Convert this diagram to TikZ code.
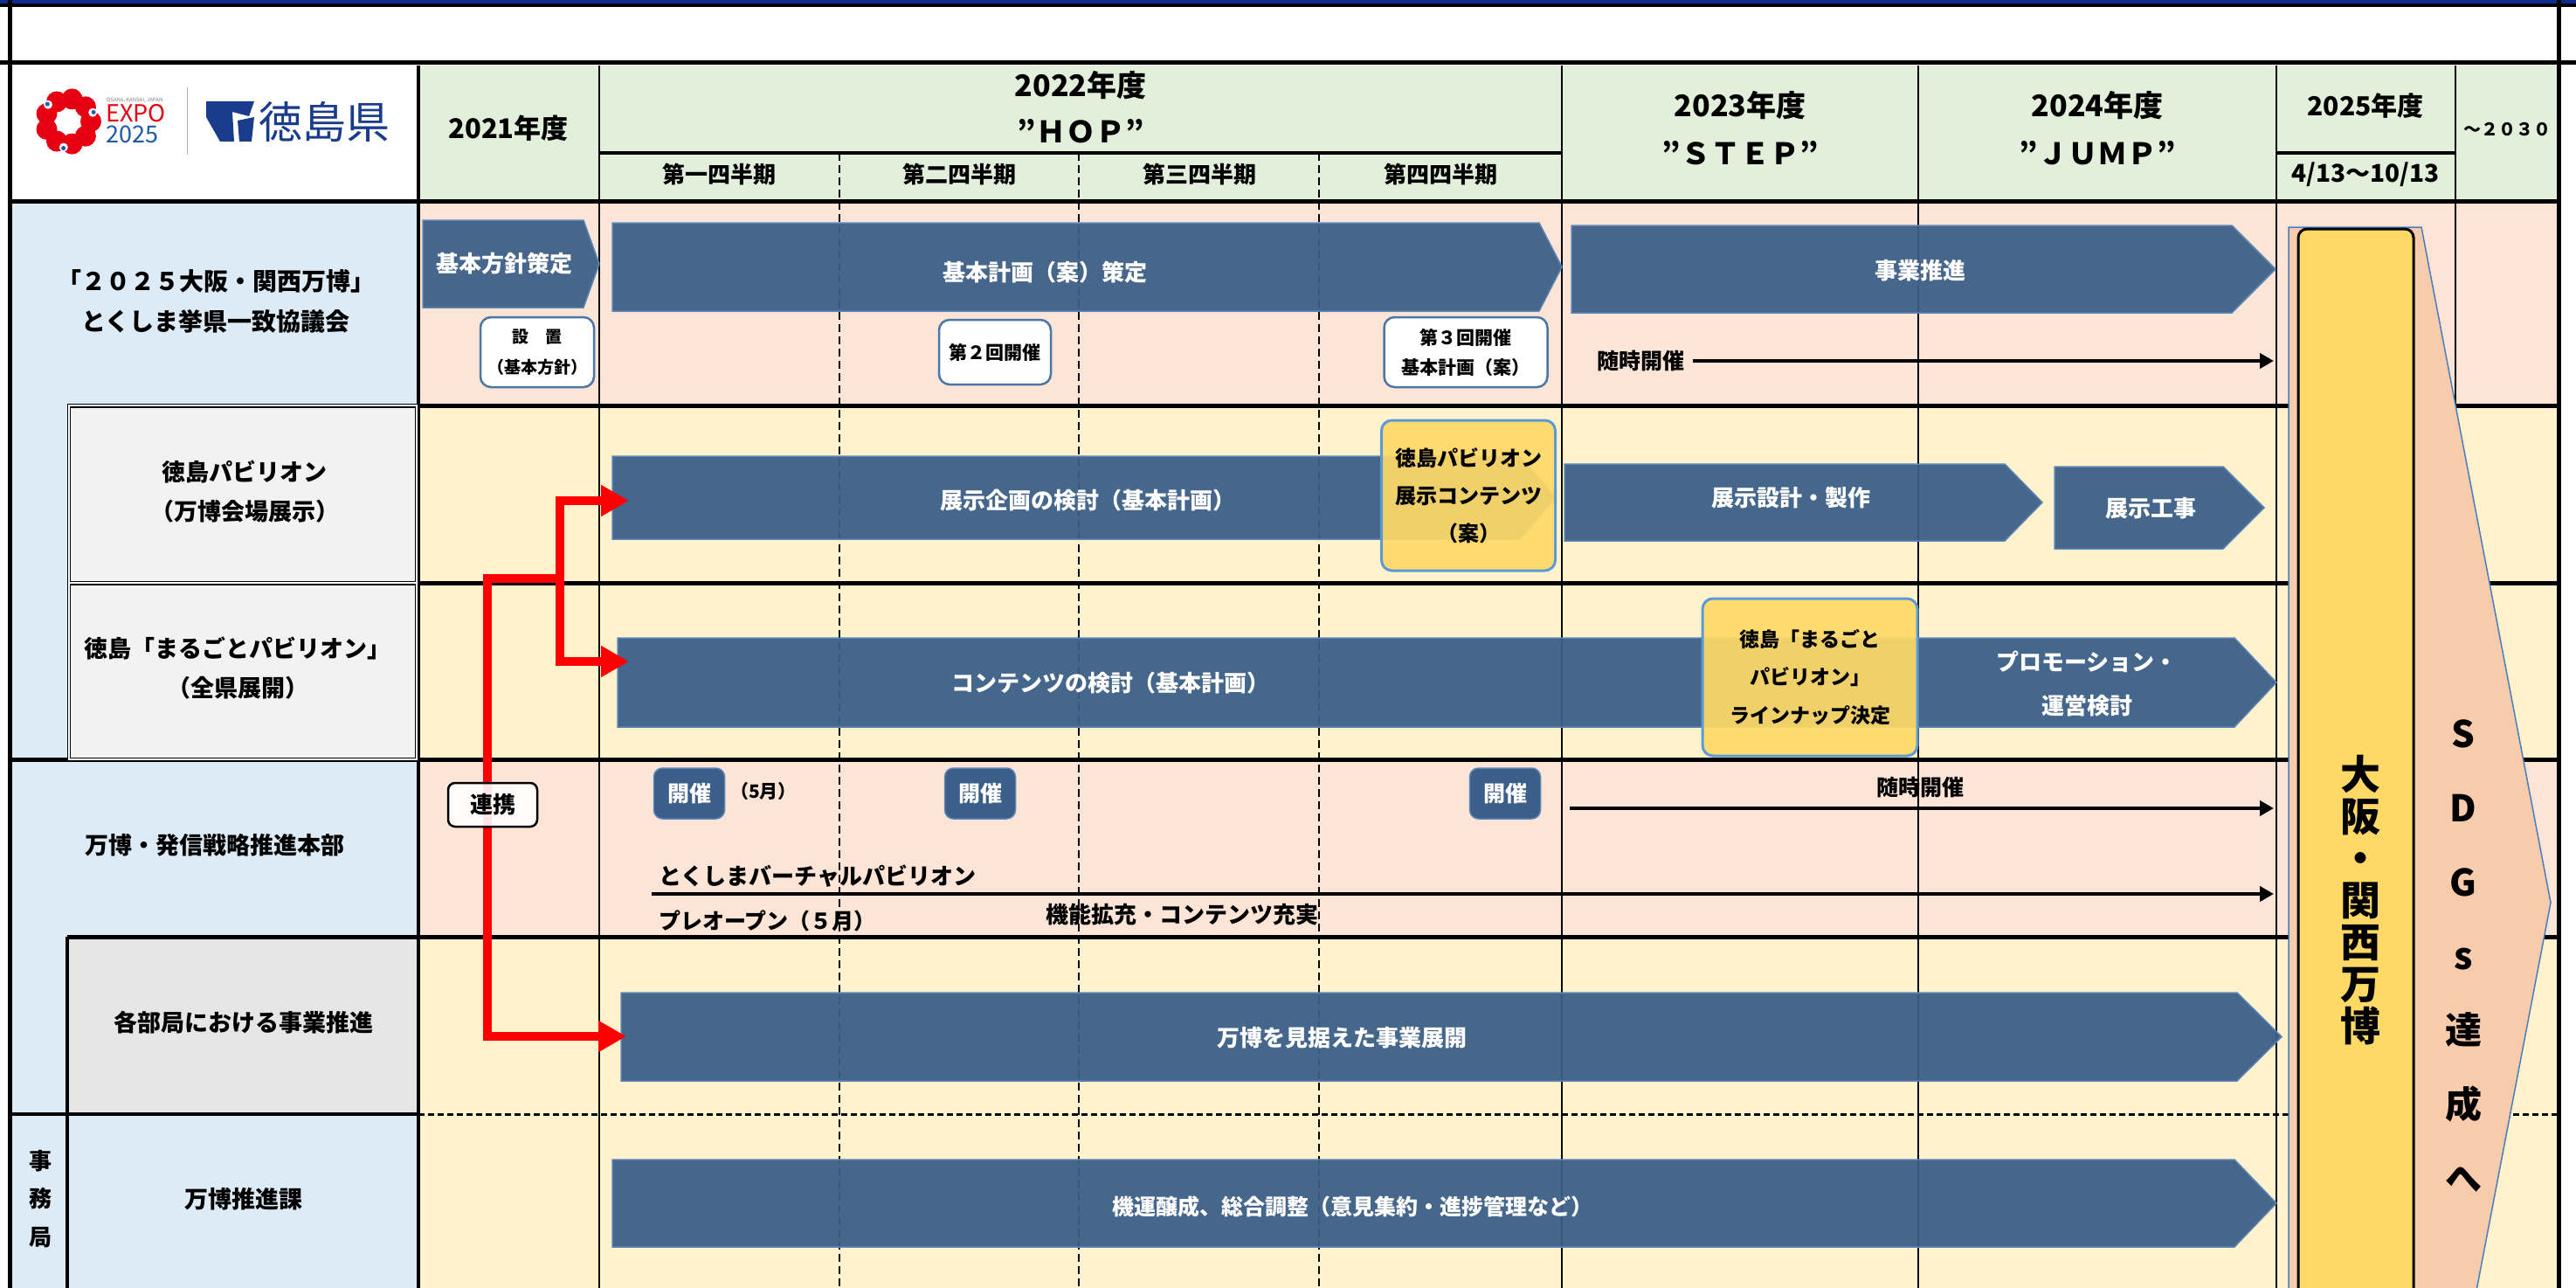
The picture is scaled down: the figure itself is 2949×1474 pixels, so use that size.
\documentclass[tikz,border=0pt]{standalone}
\usepackage{fontspec}
\setmainfont{Noto Sans CJK JP}
\usetikzlibrary{arrows.meta}
\definecolor{topblue}{HTML}{0D2C8C}
\definecolor{headgreen}{HTML}{E2EFDA}
\definecolor{labelblue}{HTML}{DDEBF7}
\definecolor{peach}{HTML}{FCE4D6}
\definecolor{cream}{HTML}{FFF2CC}
\definecolor{cellgray}{HTML}{F2F2F2}
\definecolor{cellgrey}{HTML}{E7E6E6}
\definecolor{barblue}{HTML}{3B5F88}
\definecolor{barline}{HTML}{5B85B5}
\definecolor{memoline}{HTML}{4A76A8}
\definecolor{expoyellow}{HTML}{FFD966}
\definecolor{boxline}{HTML}{5B9BD5}
\definecolor{sdgpeach}{HTML}{F8CBAD}
\definecolor{sdgline}{HTML}{4A7EBB}
\definecolor{expored}{HTML}{E60012}
\definecolor{expoblue}{HTML}{1E5AA8}
\definecolor{tokublue}{HTML}{1A3C8C}
\newcommand{\fsz}[2]{\fontsize{#1}{#2}\selectfont}
\newcommand{\bluebar}[5]{\draw[planbar] (#1,#4) -- (#2,#4) -- (#3,{(#4+#5)/2}) -- (#2,#5) -- (#1,#5) -- cycle;}
\begin{document}
\begin{tikzpicture}[x=1pt, y=-1pt, line join=miter, >={Triangle[length=16pt,width=17pt]}]
			\tikzset{every node/.style={inner sep=0pt, font=\bfseries},
				planbar/.style={fill=barblue, draw=barline, line width=1.5pt, fill opacity=0.94},
				bartext/.style={text=white, font=\bfseries\fsz{26}{50}, align=center},
				memo/.style={draw=memoline, fill=white, line width=2.5pt, rounded corners=12pt, align=center},
				kaisai/.style={draw=barline, fill=barblue, line width=1.5pt, rounded corners=10pt, text=white, minimum width=81pt, minimum height=58pt, font=\bfseries\fsz{25}{30}},
				ybox/.style={draw=boxline, fill=expoyellow, fill opacity=0.92, text opacity=1, line width=3pt, rounded corners=12pt, align=center},
				rowlabel/.style={align=center, font=\bfseries\fsz{27}{45}},
				colline/.style={line width=2.5pt},
				rowline/.style={line width=5pt},
				link/.style={red, line width=10pt, line cap=rect},
				linkarrow/.style={link, -{Triangle[length=32pt,width=34pt]}},
				timeline/.style={line width=4.5pt, ->}}
			\useasboundingbox (0,0) rectangle (2949,1474);
			\clip (0,0) rectangle (2949,1474);
			\fill[white] (0,0) rectangle (2949,1474);
			\fill[headgreen] (479,75) rectangle (2929,230);
			\fill[labelblue] (13,230) rectangle (479,1474);
			\fill[peach] (479,230) rectangle (2929,464);
			\fill[cream] (479,464) rectangle (2929,869);
			\fill[peach] (479,869) rectangle (2929,1072);
			\fill[cream] (479,1072) rectangle (2929,1474);
			\fill[cellgray] (79,464) rectangle (479,869);
			\fill[cellgrey] (77,1072) rectangle (479,1275);
			\foreach \x in {686,1788,2196,2606,2811} \draw[colline] (\x,75) -- (\x,1474);
			\foreach \x in {961,1235,1510} \draw[line width=2pt, dash pattern=on 9pt off 5pt] (\x,175) -- (\x,1474);
			\draw[line width=4pt] (686,175) -- (1788,175) (2606,175) -- (2811,175);
			\draw[line width=4pt] (479,75) -- (479,1474);
			\bluebar{484}{668}{686}{252}{352}
			\bluebar{701}{1762}{1788}{255}{356}
			\bluebar{1799}{2555}{2605}{258}{358}
			\bluebar{701}{1740}{1781}{522}{617}
			\bluebar{1791}{2295}{2338}{531}{619}
			\bluebar{2352}{2545}{2592}{534}{628}
			\bluebar{707}{2558}{2606}{730}{832}
			\bluebar{711}{2561}{2612}{1136}{1237}
			\bluebar{701}{2558}{2606}{1327}{1427}
			\node[bartext] (hoshin) at (577,302) {基本方針策定};
			\node[bartext] (keikaku) at (1196,312) {基本計画（案）策定};
			\node[bartext] (suishin) at (2198,310) {事業推進};
			\node[bartext] (kikaku) at (1245,573) {展示企画の検討（基本計画）};
			\node[bartext] (sekkei) at (2050,570) {展示設計・製作};
			\node[bartext] (koji) at (2462,582) {展示工事};
			\node[bartext] (kento) at (1271,782) {コンテンツの検討（基本計画）};
			\node[bartext] (promo) at (2389,783) {プロモーション・\\運営検討};
			\node[bartext] (tenkai) at (1536,1188) {万博を見据えた事業展開};
			\node[bartext, font=\bfseries\fsz{25}{30}] (kiun) at (1548,1381) {機運醸成、総合調整（意見集約・進捗管理など）};
			\draw[rowline] (0,72) -- (2949,72);
			\draw[rowline] (13,230) -- (2929,230);
			\draw[rowline] (77,464) -- (2929,464);
			\draw[rowline] (77,667) -- (2929,667);
			\draw[rowline] (13,869) -- (2929,869);
			\draw[rowline] (77,1072) -- (2929,1072);
			\draw[line width=4pt] (13,1275) -- (479,1275);
			\draw[line width=3pt, dash pattern=on 7pt off 4pt] (479,1275) -- (2929,1275);
			\draw[line width=4pt] (77,1072) -- (77,1474);
			\draw[double=white, double distance=1.5pt, line width=1.5pt] (79,464) rectangle (477,667) (79,667) rectangle (477,869);
			\node[rowlabel, font=\bfseries\fsz{28}{46}] (kyogikai) at (247,345) {「２０２５大阪・関西万博」\\とくしま挙県一致協議会};
			\node[rowlabel] (pavilion) at (280,563) {徳島パビリオン\\（万博会場展示）};
			\node[rowlabel] (marugoto) at (272,765) {徳島「まるごとパビリオン」\\（全県展開）};
			\node[rowlabel] (honbu) at (246,967) {万博・発信戦略推進本部};
			\node[rowlabel] (bukyoku) at (279,1170) {各部局における事業推進};
			\node[rowlabel, font=\bfseries\fsz{26}{43.5}] (jimukyoku) at (46,1372) {事\\務\\局};
			\node[rowlabel] (suishinka) at (279,1372) {万博推進課};
			\node[font=\bfseries\fsz{31}{36}] (y2021) at (582,147) {2021年度};
			\node[font=\bfseries\fsz{34}{53}, align=center] (y2022) at (1237,123) {2022年度\\”ＨＯＰ”};
			\node[font=\bfseries\fsz{34}{55}, align=center] (y2023) at (1992,147) {2023年度\\”ＳＴＥＰ”};
			\node[font=\bfseries\fsz{34}{55}, align=center] (y2024) at (2401,147) {2024年度\\”ＪＵＭＰ”};
			\node[font=\bfseries\fsz{30}{36}] (y2025) at (2708,121) {2025年度};
			\node[font=\bfseries\fsz{28}{32}] (period) at (2708,200) {4/13～10/13};
			\node[font=\bfseries\fsz{20}{24}] (y2030) at (2870,148) {～２０３０};
			\foreach \x/\q/\n in {823/一/1,1098/二/2,1373/三/3,1649/四/4}
				\node[font=\bfseries\fsz{26}{30}] (q\n) at (\x,200) {第\q{}四半期};
			\node[memo, minimum width=130pt, minimum height=80pt, font=\bfseries\fsz{19}{35}] (secchi) at (615,403) {設　置\\（基本方針）};
			\node[memo, minimum width=128pt, minimum height=74pt, font=\bfseries\fsz{21}{30}] (dai2) at (1139,403) {第２回開催};
			\node[memo, minimum width=187pt, minimum height=80pt, font=\bfseries\fsz{21}{34}] (dai3) at (1678,403) {第３回開催\\基本計画（案）};
			\node[font=\bfseries\fsz{25}{30}] (zuiji1) at (1878,413) {随時開催};
			\coordinate (zuiji1 end) at (2603,413);
			\draw[timeline] ([xshift=10pt]zuiji1.east) -- (zuiji1 end);
			\node[ybox, minimum width=199pt, minimum height=172pt, font=\bfseries\fsz{24}{43}] (contents) at (1681,567) {徳島パビリオン\\展示コンテンツ\\（案）};
			\node[ybox, minimum width=246pt, minimum height=180pt, font=\bfseries\fsz{23}{43.5}] (lineup) at (2072,775) {徳島「まるごと\\パビリオン」\\ラインナップ決定};
			\node[kaisai] (k1) at (789,908) {開催};
			\node[kaisai] (k2) at (1122,908) {開催};
			\node[kaisai] (k3) at (1723,908) {開催};
			\node[font=\bfseries\fsz{21}{26}] (gogatsu) at (874,906) {（5月）};
			\node[font=\bfseries\fsz{25}{30}] (zuiji2) at (2198,901) {随時開催};
			\coordinate (zuiji2 start) at (1797,925);
			\coordinate (zuiji2 end) at (2603,925);
			\draw[timeline] (zuiji2 start) -- (zuiji2 end);
			\node[anchor=west, font=\bfseries\fsz{26}{30}] (virtual) at (754,1003) {とくしまバーチャルパビリオン};
			\coordinate (virtual start) at (746,1023);
			\coordinate (virtual end) at (2603,1023);
			\draw[timeline] (virtual start) -- (virtual end);
			\node[anchor=west, font=\bfseries\fsz{25}{30}] (preopen) at (754,1054) {プレオープン（５月）};
			\node[font=\bfseries\fsz{26}{30}] (kinou) at (1353,1047) {機能拡充・コンテンツ充実};
			\coordinate (hub) at (558,662);
			\coordinate (fork) at (641,662);
			\coordinate (pavilion in) at (720,573);
			\coordinate (marugoto in) at (720,757);
			\coordinate (bukyoku in) at (717,1186);
			\draw[link] (hub) -- (fork);
			\draw[link] (fork |- pavilion in) -- (fork |- marugoto in);
			\draw[linkarrow] (fork |- pavilion in) -- (pavilion in);
			\draw[linkarrow] (fork |- marugoto in) -- (marugoto in);
			\draw[linkarrow] (hub) |- (bukyoku in);
			\node[draw, fill=white, fill opacity=0.9, text opacity=1, line width=2.5pt, rounded corners=8pt, minimum width=102pt, minimum height=50pt, font=\bfseries\fsz{26}{30}] (renkei) at (564,921) {連携};
			\draw[sdgline, fill=sdgpeach, line width=1.5pt] (2620,260) -- (2772,260) -- (2920,1033) -- (2772,1806) -- (2620,1806) -- cycle;
			\draw[fill=expoyellow, line width=3pt, rounded corners=10pt] (2631,262) rectangle (2763,1540);
			\node[align=center, font=\bfseries\fsz{46}{48}] (expo) at (2702,1030) {大\\阪\\・\\関\\西\\万\\博};
			\node[align=center, font=\bfseries\fsz{42}{84.7}] (sdgs) at (2820,1094) {S\\D\\G\\s\\達\\成\\へ};
			\foreach \a in {0,40,...,320} \fill[expored] (78,139) ++(\a:26pt) circle (12pt);
			\fill[white] (78,139) circle (14pt);
			\foreach \a in {20,140,260} {\fill[white] (78,139) ++(\a:30pt) circle (5pt); \fill[expoblue] (78,139) ++(\a:31pt) circle (2.5pt);}
			\node[anchor=west, text=gray, font=\mdseries\fsz{6}{7}] (expo tag) at (122,115) {OSAKA, KANSAI, JAPAN};
			\node[anchor=west, text=expored, font=\mdseries\fsz{27}{30}] (expo word) at (121,130) {EXPO};
			\node[anchor=west, text=expoblue, font=\mdseries\fsz{27}{30}] (expo year) at (121,154) {2025};
			\draw[gray!60, line width=1pt] (214,100) -- (214,177);
			\fill[tokublue] (236,116) -- (291,116) -- (285,133) -- (266,128) -- (268,162) -- (252,162) -- (236,134) -- cycle;
			\fill[tokublue] (272,138) -- (291,134) -- (288,162) -- (274,162) -- cycle;
			\node[anchor=west, text=tokublue, font=\mdseries\fsz{50}{55}] (pref) at (296,139) {徳島県};
			\fill[topblue] (0,0) rectangle (2949,4);
			\draw[line width=4pt] (0,6) -- (2949,6);
			\draw[line width=5pt] (11,0) -- (11,1474);
			\draw[line width=5pt] (2929,0) -- (2929,1474);
		\end{tikzpicture}
\end{document}
